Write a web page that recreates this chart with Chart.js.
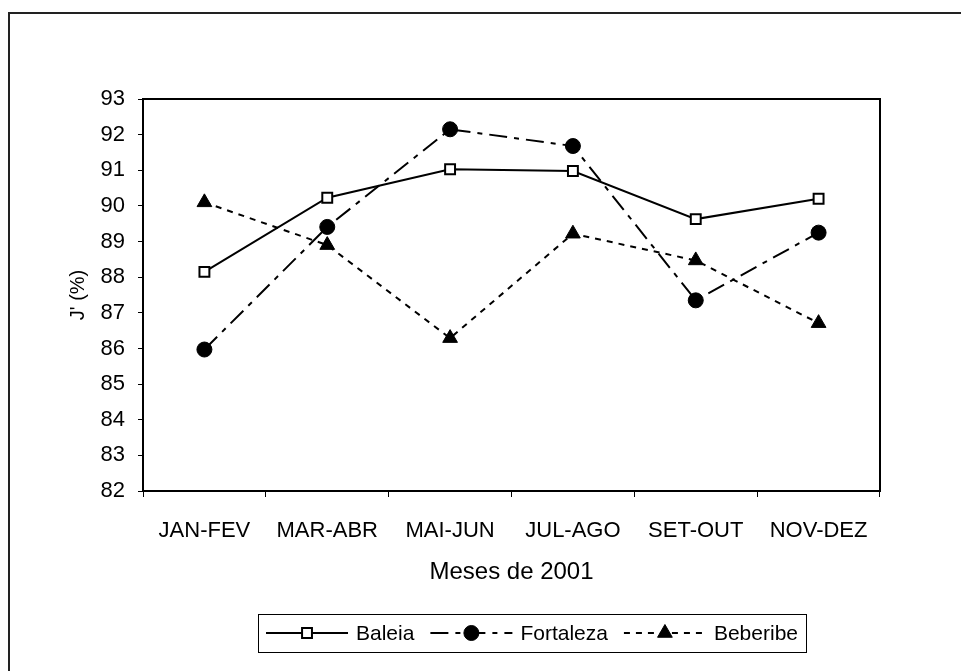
<!DOCTYPE html>
<html lang="pt">
<head>
  <meta charset="UTF-8" />
  <title>J' (%) - Meses de 2001</title>
  <script src="https://cdn.jsdelivr.net/npm/chart.js"></script>
  <style>
    body { margin: 0; background: #fff; }
    #chart { display: block; }
  </style>
</head>
<body>
  <canvas id="chart" width="961" height="671"></canvas>

  <script>
    const categories = ["JAN-FEV", "MAR-ABR", "MAI-JUN", "JUL-AGO", "SET-OUT", "NOV-DEZ"];
    const baleia = [88.15, 90.23, 91.03, 90.98, 89.63, 90.2];
    const fortaleza = [85.97, 89.41, 92.15, 91.68, 87.35, 89.25];
    const beberibe = [90.1, 88.9, 86.29, 89.22, 88.47, 86.71];
    const yTicks = [82, 83, 84, 85, 86, 87, 88, 89, 90, 91, 92, 93];

    const FONT = '"Liberation Sans", Arial, sans-serif';

    // outer frame + plot box
    const framePlugin = {
      id: "frame",
      beforeDraw(chart) {
        const ctx = chart.ctx;
        ctx.save();
        ctx.fillStyle = "#fff";
        ctx.fillRect(0, 0, chart.width, chart.height);
        ctx.strokeStyle = "#222";
        ctx.lineWidth = 2;
        ctx.beginPath();
        ctx.moveTo(9, chart.height);
        ctx.lineTo(9, 13);
        ctx.lineTo(chart.width, 13);
        ctx.stroke();
        ctx.restore();
      },
      beforeDatasetsDraw(chart) {
        const a = chart.chartArea;
        const ctx = chart.ctx;
        ctx.save();
        ctx.strokeStyle = "#000";
        ctx.lineWidth = 2;
        ctx.strokeRect(a.left, a.top, a.right - a.left, a.bottom - a.top);
        ctx.restore();
      }
    };

    // legend box with line samples like the original
    const legendPlugin = {
      id: "boxLegend",
      afterDraw(chart) {
        const ctx = chart.ctx;
        const sets = chart.data.datasets;
        const sampleW = 82, gapS = 8, gapT = 16, padX = 8;
        ctx.save();
        ctx.font = "21px " + FONT;
        const widths = sets.map(d => ctx.measureText(d.label).width);
        let total = padX * 2 + gapT * (sets.length - 1);
        widths.forEach(w => total += sampleW + gapS + w);
        const cx = 532, top = 614, h = 38, cy = top + h / 2;
        let x = cx - total / 2;
        ctx.strokeStyle = "#000";
        ctx.lineWidth = 1;
        ctx.strokeRect(Math.round(x) + 0.5, top + 0.5, Math.round(total), h);
        x += padX;
        sets.forEach((d, i) => {
          ctx.strokeStyle = "#000";
          ctx.lineWidth = d.borderWidth;
          ctx.setLineDash(d.borderDash || []);
          ctx.beginPath();
          ctx.moveTo(x, cy);
          ctx.lineTo(x + sampleW, cy);
          ctx.stroke();
          ctx.setLineDash([]);
          ctx.fillStyle = d.pointBackgroundColor;
          ctx.strokeStyle = "#000";
          ctx.lineWidth = d.pointBorderWidth;
          Chart.helpers.drawPoint(ctx, {
            pointStyle: d.pointStyle,
            radius: d.pointRadius,
            rotation: 0,
            borderWidth: d.pointBorderWidth
          }, x + sampleW / 2, cy);
          x += sampleW + gapS;
          ctx.fillStyle = "#000";
          ctx.textAlign = "left";
          ctx.textBaseline = "middle";
          ctx.fillText(d.label, x, cy + 1);
          x += widths[i] + gapT;
        });
        ctx.restore();
      }
    };

    new Chart(document.getElementById("chart"), {
      type: "line",
      data: {
        labels: categories,
        datasets: [
          {
            label: "Baleia",
            data: baleia,
            borderColor: "#000",
            borderWidth: 2,
            pointStyle: "rect",
            pointRadius: 7,
            pointBorderWidth: 2,
            pointBackgroundColor: "#fff",
            pointBorderColor: "#000",
            tension: 0
          },
          {
            label: "Fortaleza",
            data: fortaleza,
            borderColor: "#000",
            borderWidth: 2,
            borderDash: [18, 7, 5, 7],
            pointStyle: "circle",
            pointRadius: 7.5,
            pointBorderWidth: 1,
            pointBackgroundColor: "#000",
            pointBorderColor: "#000",
            tension: 0
          },
          {
            label: "Beberibe",
            data: beberibe,
            borderColor: "#000",
            borderWidth: 2,
            borderDash: [6, 6],
            pointStyle: "triangle",
            pointRadius: 8.5,
            pointBorderWidth: 1,
            pointBackgroundColor: "#000",
            pointBorderColor: "#000",
            tension: 0
          }
        ]
      },
      options: {
        responsive: false,
        animation: false,
        layout: { padding: { left: 66, right: 81, top: 99, bottom: 80 } },
        plugins: {
          legend: { display: false },
          tooltip: { enabled: false }
        },
        scales: {
          x: {
            offset: true,
            grid: { display: true, offset: true, drawOnChartArea: false, tickLength: 6, color: "#000", lineWidth: 1 },
            border: { display: true, color: "#000", width: 2 },
            ticks: { color: "#000", font: { family: FONT, size: 22 }, padding: 21, maxRotation: 0, autoSkip: false },
            title: { display: true, text: "Meses de 2001", color: "#000", font: { family: FONT, size: 24 }, padding: { top: 0, bottom: 4 } },
            afterFit(scale) { scale.height = 100; }
          },
          y: {
            min: yTicks[0],
            max: yTicks[yTicks.length - 1],
            afterBuildTicks(scale) { scale.ticks = yTicks.map(v => ({ value: v })); },
            grid: { display: true, drawOnChartArea: false, tickLength: 5, color: "#000", lineWidth: 1 },
            border: { display: true, color: "#000", width: 2 },
            ticks: { color: "#000", font: { family: FONT, size: 22 }, padding: 13 },
            title: { display: true, text: "J' (%)", color: "#000", font: { family: FONT, size: 20 }, padding: { top: 0, bottom: 0 } },
            afterFit(scale) { scale.width = 77; }
          }
        }
      },
      plugins: [framePlugin, legendPlugin]
    });
  </script>
</body>
</html>
